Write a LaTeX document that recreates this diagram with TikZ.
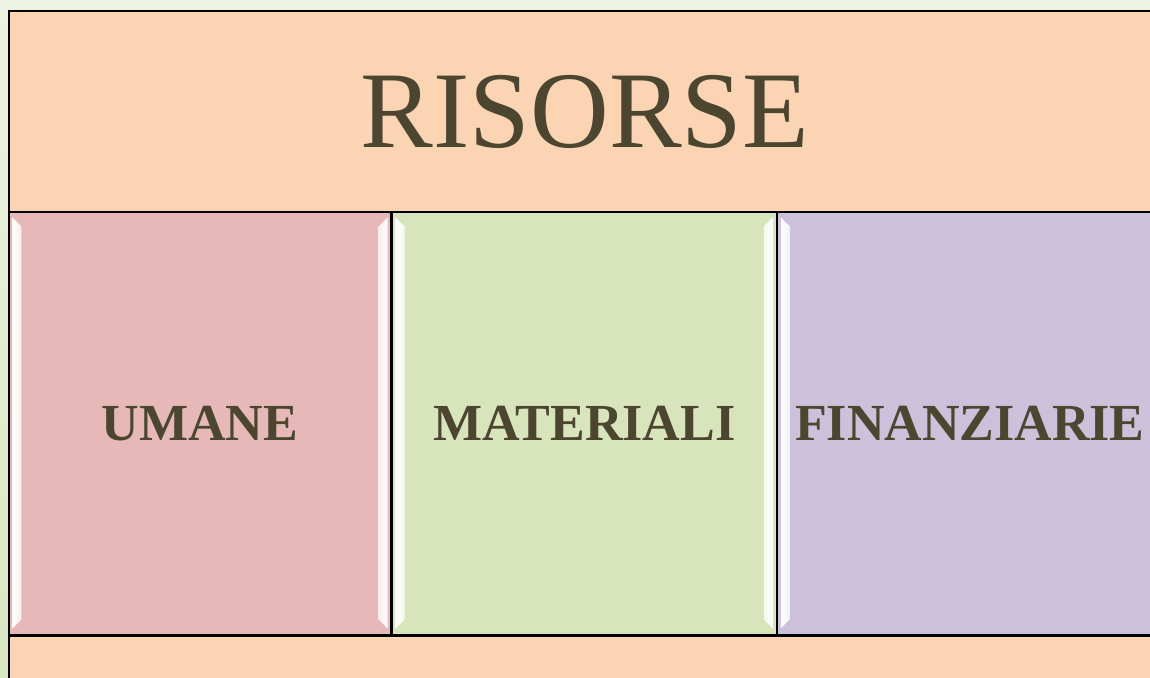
\documentclass[tikz,border=0pt]{standalone}
\usepackage{fontspec}
\setmainfont{Liberation Serif}
\usetikzlibrary{positioning}

\definecolor{ink}{HTML}{4C4630}
\definecolor{bgtop}{HTML}{EDF3E2}
\definecolor{bgbottom}{HTML}{D9E6C2}
\definecolor{peach}{HTML}{FBD4B4}
\definecolor{pinkbox}{HTML}{E6B8B7}
\definecolor{greenbox}{HTML}{D8E4BC}
\definecolor{lilacbox}{HTML}{CCC0DA}

\tikzset{
  band/.style={draw=black, line width=1.2pt, fill=peach, inner sep=0pt,
    minimum width=1152pt, text=ink},
  kind/.style={draw=black, line width=1.2pt, inner sep=0pt,
    minimum width=385pt, minimum height=423pt, text=ink,
    font=\bfseries\fontsize{52}{60}\selectfont},
}

\begin{document}
\begin{tikzpicture}[x=1pt, y=-1pt]
  % page and background
  \useasboundingbox (0,0) rectangle (1150,677);
  \shade[top color=bgtop, bottom color=bgbottom] (0,0) rectangle (1150,677);

  % title band
  \node[band, minimum height=201pt, font=\fontsize{109}{120}\selectfont]
    (risorse) at (585,111.5) {RISORSE};

  % the three kinds
  \node[kind, fill=pinkbox, minimum width=382pt] (umane) at (200,423.5) {UMANE};
  \node[kind, fill=greenbox, minimum width=384pt, right=0pt of umane] (materiali) {MATERIALI};
  \node[kind, fill=lilacbox, right=0pt of materiali] (finanziarie) {FINANZIARIE};

  % bottom band
  \node[band, minimum height=100pt, anchor=north west] (fondo) at (umane.south west) {};

  % glossy edges
  \foreach \b/\c in {umane/pinkbox, materiali/greenbox, finanziarie/lilacbox} {
    \shade[shift={(\b.north west)}, left color=white, right color=\c!25!white]
      (4,6) -- (13,15) -- (13,408) -- (4,417) -- cycle;
    \shade[shift={(\b.north east)}, right color=white, left color=\c!25!white]
      (-4,6) -- (-13,15) -- (-13,408) -- (-4,417) -- cycle;
  }
\end{tikzpicture}
\end{document}
